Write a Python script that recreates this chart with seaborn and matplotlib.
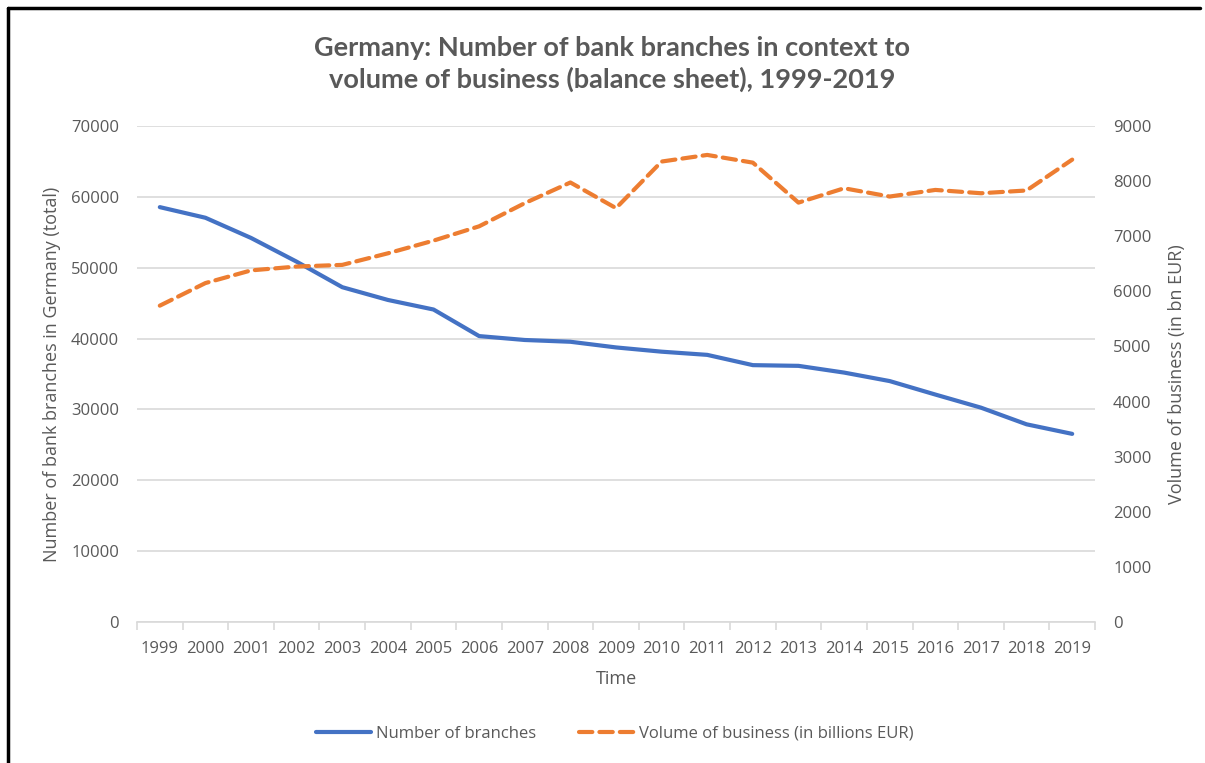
import numpy as np
import pandas as pd
import matplotlib.pyplot as plt
import seaborn as sns
from matplotlib.lines import Line2D

sns.set_theme(style="white")
plt.rcParams['font.family'] = ['Open Sans', 'DejaVu Sans']

# data
years = list(range(1999, 2020))
branches = [58550, 57050, 54200, 50850, 47250, 45450, 44100, 40350, 39800, 39550, 38750,
            38150, 37700, 36250, 36150, 35200, 34000, 32100, 30250, 27900, 26550]
volume = [5740, 6150, 6380, 6450, 6480, 6690, 6920, 7180, 7600, 7975, 7510,
          8355, 8475, 8335, 7610, 7870, 7720, 7840, 7780, 7830, 8390]

df = pd.DataFrame({"Year": years, "Branches": branches, "Volume": volume})

blue = "#4472C4"
orange = "#ED7D31"
txt = "#595959"
grid = "#D9D9D9"

fig = plt.figure(figsize=(12.05, 7.63), dpi=100)
ax = fig.add_axes([137/1205, 1-622/763, (1095-137)/1205, (622-126)/763])
ax2 = ax.twinx()

sns.lineplot(x="Year", y="Branches", data=df, ax=ax, color=blue, linewidth=3,
             solid_capstyle="round")
sns.lineplot(x="Year", y="Volume", data=df, ax=ax2, color=orange, linewidth=3,
             dashes=False)
ax2.lines[0].set_dashes((3.2, 1.7))
ax2.lines[0].set_dash_capstyle("round")

ax.set_xlim(1998.5, 2019.5)
ax.set_ylim(0, 70000)
ax2.set_ylim(0, 9000)
ax.set_yticks(np.arange(0, 70001, 10000))
ax2.set_yticks(np.arange(0, 9001, 1000))
ax.set_xticks(years)
ax.set_xticks(np.arange(1998.5, 2020, 1), minor=True)

ax.yaxis.grid(True, color=grid, linewidth=1.2)
ax.set_axisbelow(True)
for a in (ax, ax2):
    for s in a.spines.values():
        s.set_visible(False)
ax.spines["bottom"].set_visible(True)
ax.spines["bottom"].set_color(grid)
ax.spines["bottom"].set_linewidth(1.2)

ax.tick_params(axis="x", which="major", length=0, pad=14, labelsize=12, labelcolor=txt)
ax.tick_params(axis="x", which="minor", length=6, width=1.2, color=grid, bottom=True)
ax.tick_params(axis="y", length=0, pad=13, labelsize=12, labelcolor=txt)
ax2.tick_params(axis="y", length=0, pad=13, labelsize=12, labelcolor=txt)

ax.set_xlabel("Time", fontsize=13, color=txt, labelpad=9)
ax.set_ylabel("Number of bank branches in Germany (total)", fontsize=13, color=txt, labelpad=7)
ax2.set_ylabel("Volume of business (in bn EUR)", fontsize=13, color=txt, labelpad=12)

fig.text(612/1205, 1-64/763,
         "Germany: Number of bank branches in context to\nvolume of business (balance sheet), 1999-2019",
         ha="center", va="center", fontsize=19.5, fontweight="bold", color=txt,
         linespacing=1.32, family=["Lato", "DejaVu Sans"])

handles = [Line2D([], [], color=blue, linewidth=3, solid_capstyle="round"),
           Line2D([], [], color=orange, linewidth=3, dashes=(3.2, 1.7), dash_capstyle="round")]
fig.legend(handles, ["Number of branches", "Volume of business (in billions EUR)"],
           loc="center", bbox_to_anchor=(615/1205, 1-734/763), ncol=2, frameon=False,
           fontsize=12, labelcolor=txt, handlelength=3.3, handletextpad=0.3,
           columnspacing=2.6)

# outer frame like the screenshot
fig.add_artist(Line2D([8/1205, 8/1205], [0, 1-8/763], color="black", linewidth=2.5))
fig.add_artist(Line2D([8/1205, 1200/1205], [1-8/763, 1-8/763], color="black", linewidth=2.5))

fig.savefig("out.png", dpi=100)
